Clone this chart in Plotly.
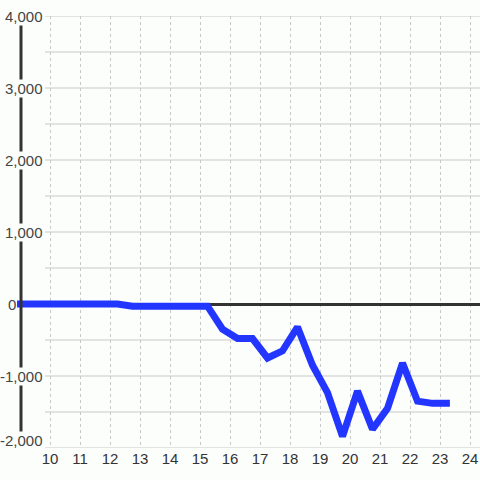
import plotly.graph_objects as go

# Data
hours = [8.75, 9.25, 9.75, 10.25, 10.75, 11.25, 11.75, 12.25, 12.75, 13.25, 13.75,
         14.25, 14.75, 15.25, 15.75, 16.25, 16.75, 17.25, 17.75, 18.25, 18.75,
         19.25, 19.75, 20.25, 20.75, 21.25, 21.75, 22.25, 22.75, 23.33]
values = [0, 0, 0, 0, 0, 0, 0, 0, -30, -30, -30,
          -30, -30, -30, -350, -480, -480, -750, -650, -320, -850,
          -1230, -1840, -1210, -1740, -1450, -820, -1350, -1380, -1380]

x_ticks = list(range(10, 25))
y_ticks = [4000, 3000, 2000, 1000, 0, -1000, -2000]
y_tick_text = ["4,000", "3,000", "2,000", "1,000", "0", "-1,000", "-2,000"]
y_grid = [v for v in range(-2000, 4001, 500)]

W, H = 480, 480
PL, PT, PB = 17, 16, 448  # plot area edges in page pixels
L, R, T, B = PL, 0, PT, H - PB
plot_w = W - L - R
px_per_unit = 30
x_range = [10 - (50 - PL) / px_per_unit, 24 + (480 - 470) / px_per_unit]

bg = "#fcfefc"

fig = go.Figure()
fig.add_trace(go.Scatter(x=hours, y=values, mode="lines",
                         line=dict(color="#2236ff", width=7),
                         hoverinfo="skip", showlegend=False))

shapes = []
for v in y_grid:
    shapes.append(dict(type="line", xref="paper", yref="y",
                       x0=(45 - PL) / plot_w, x1=1, y0=v, y1=v,
                       line=dict(color="#c8c8c8", width=1), layer="below"))
ax_x = (21 - PL) / plot_w
shapes.append(dict(type="line", xref="paper", yref="y",
                   x0=ax_x, x1=ax_x, y0=min(y_ticks), y1=max(y_ticks),
                   line=dict(color="#333333", width=3), layer="above"))

annotations = []
for v, t in zip(y_ticks, y_tick_text):
    right_px = 17 if v == 0 else 44
    is_bottom = v == min(y_ticks)
    annotations.append(dict(xref="paper", yref="y", x=(right_px - PL) / plot_w, y=v,
                            text=t, showarrow=False, xanchor="right",
                            yanchor="bottom" if is_bottom else "middle",
                            yshift=-2 if is_bottom else 0,
                            bgcolor=bg, borderpad=0,
                            font=dict(family="Liberation Sans, Arial", size=15,
                                      color="#444444")))

fig.update_layout(
    width=W, height=H,
    margin=dict(l=L, r=R, t=T, b=B),
    paper_bgcolor=bg, plot_bgcolor=bg,
    shapes=shapes, annotations=annotations,
    font=dict(family="Liberation Sans, Arial", size=15, color="#333333"),
    xaxis=dict(range=x_range, tickvals=x_ticks, ticktext=[str(t) for t in x_ticks],
               showgrid=True, gridcolor="#c8c8c8", griddash="3px,3px", gridwidth=1,
               zeroline=False, showline=False, ticks="", fixedrange=True,
               tickfont=dict(size=15, color="#333333")),
    yaxis=dict(range=[-2000, 4000], showgrid=False, showticklabels=False,
               zeroline=True, zerolinecolor="#333333", zerolinewidth=3,
               showline=False, ticks="", fixedrange=True),
)

fig.write_html("out.html", config={"displayModeBar": False},
               post_script="document.body.style.margin='0';document.body.style.padding='0';")
